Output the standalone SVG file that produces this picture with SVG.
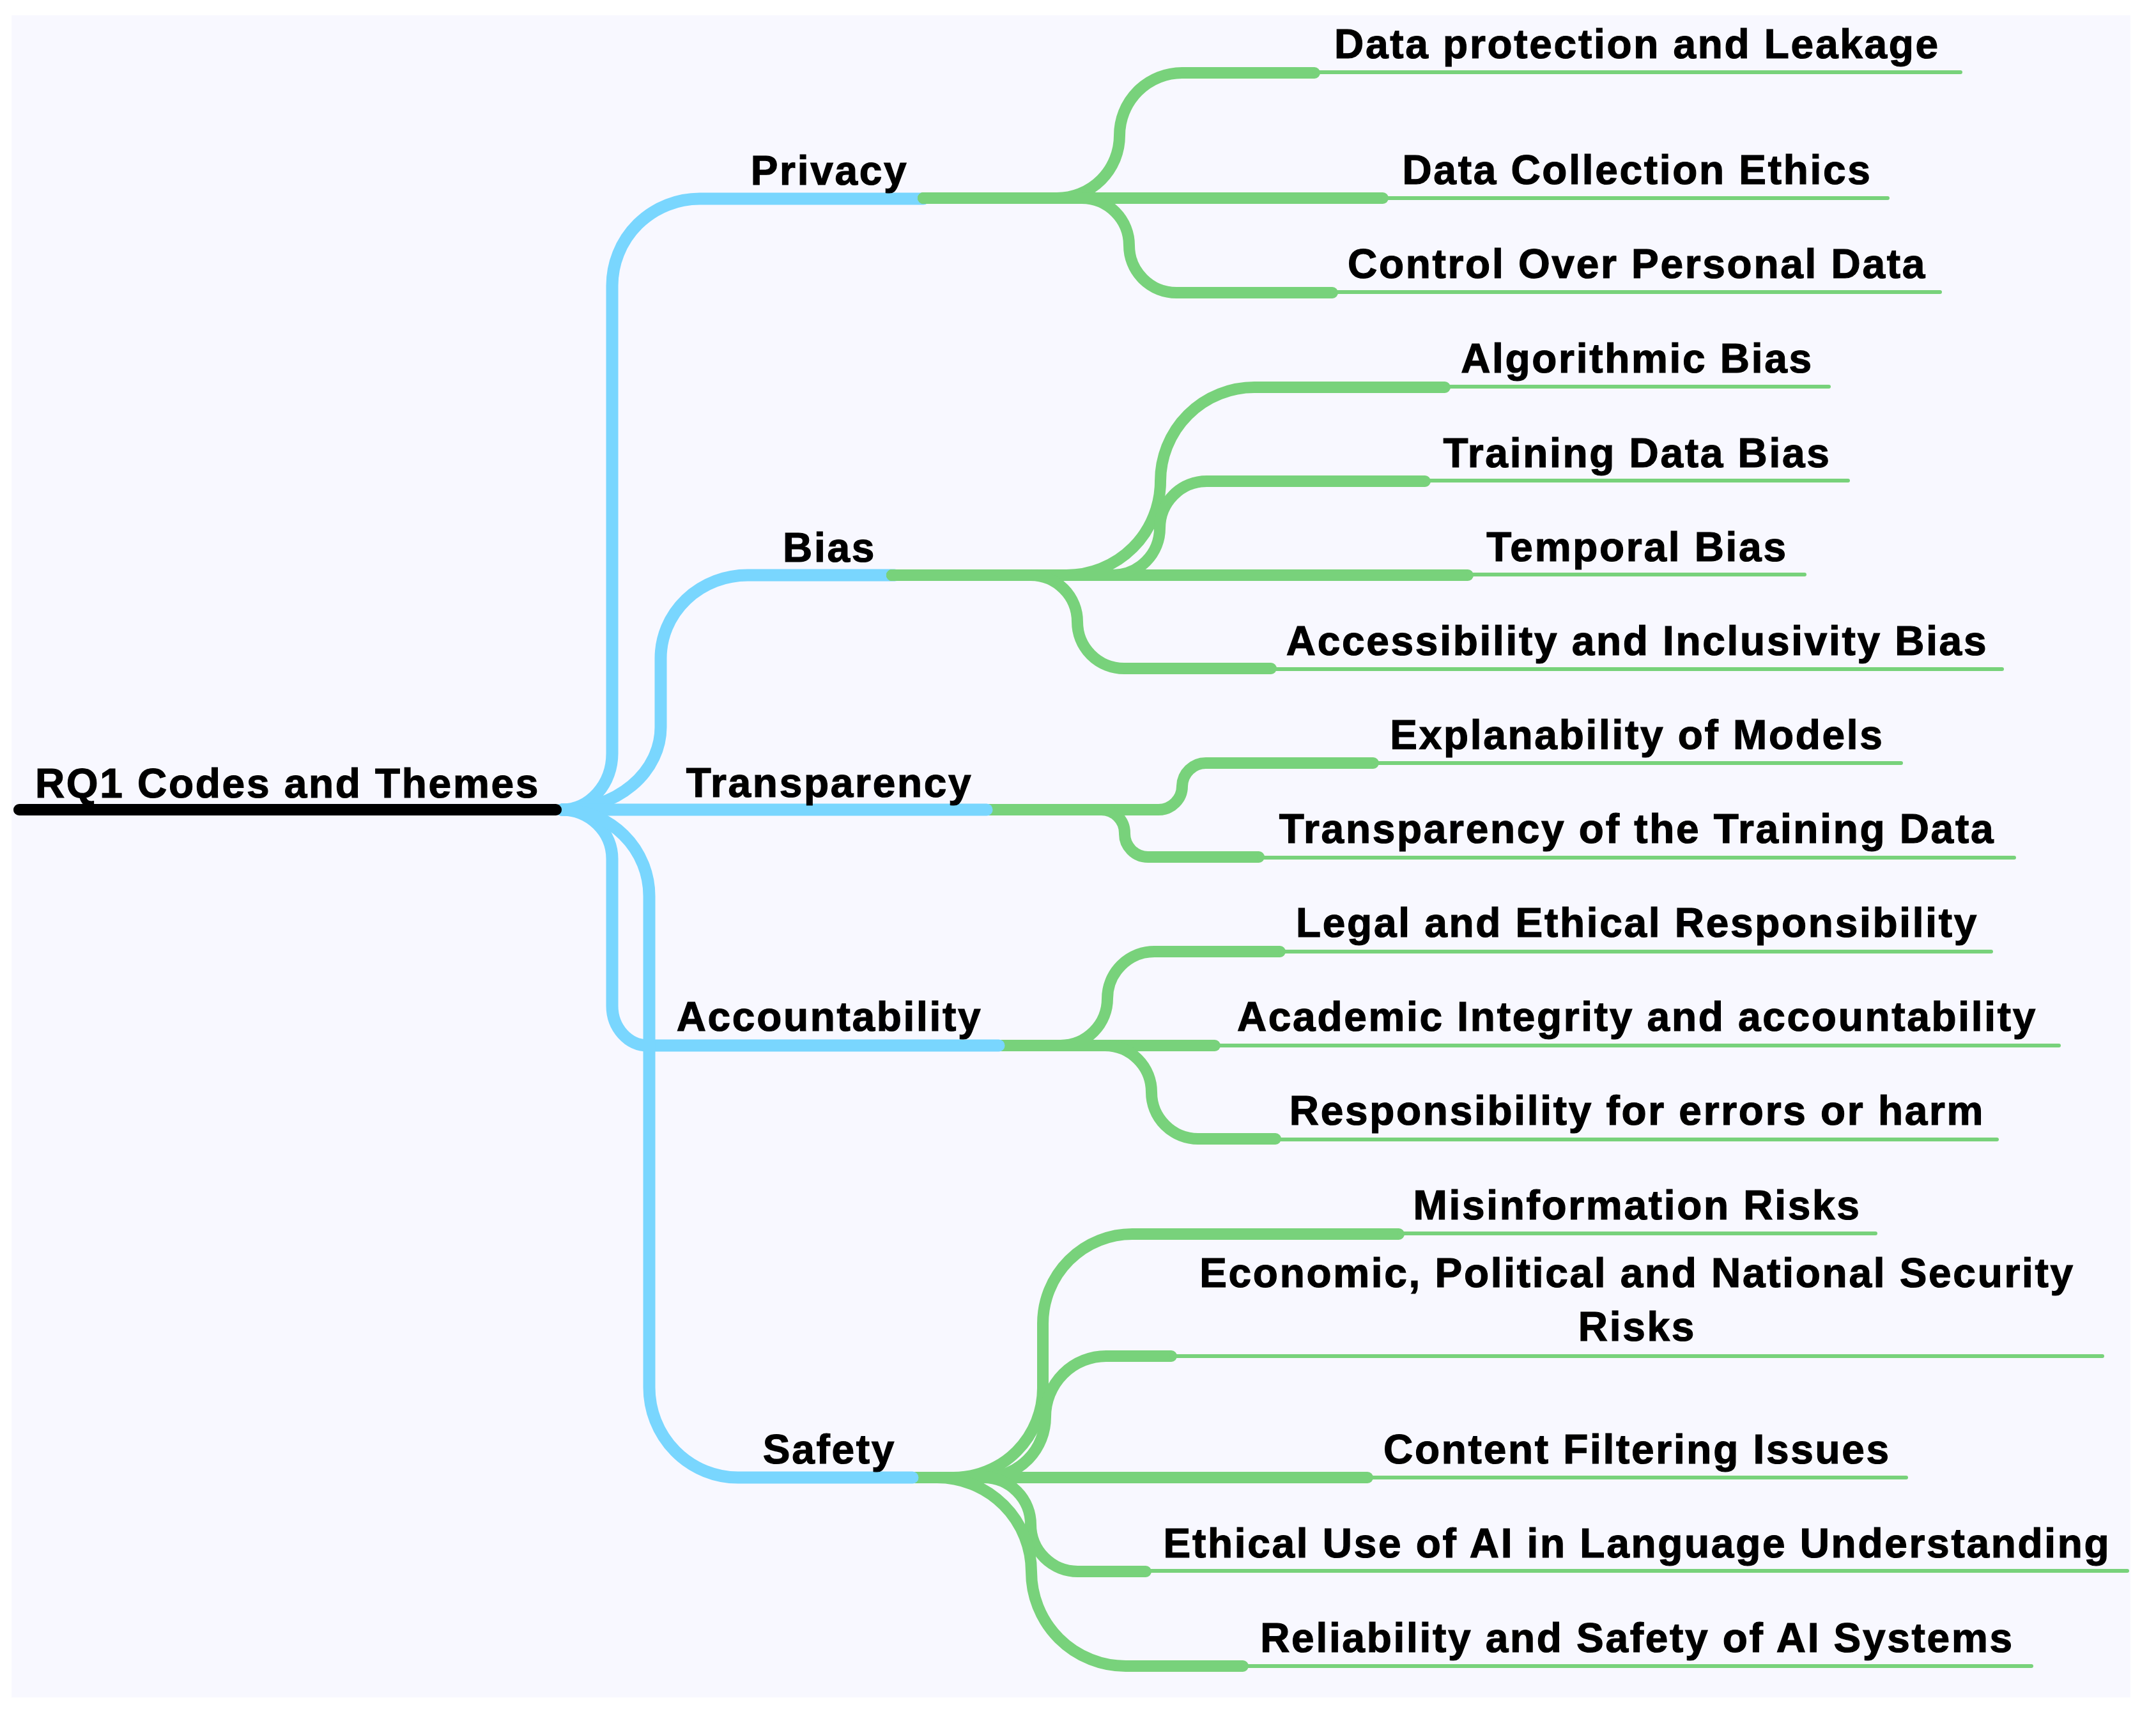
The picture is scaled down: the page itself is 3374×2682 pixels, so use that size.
<svg xmlns="http://www.w3.org/2000/svg" width="3374" height="2682" viewBox="0 0 3374 2682">
<style>
.bg{fill:#F8F8FF}
.lk{fill:none;stroke-linecap:round;stroke-linejoin:round}
.b{stroke:#79D6FE;stroke-width:19}
.g{stroke:#78D27B;stroke-width:18}
.thin{stroke:#78D27B;stroke-width:6;stroke-linecap:round}
.root{stroke:#000;stroke-width:18;stroke-linecap:round}
text{font-family:"Liberation Sans",Arial,Helvetica,sans-serif;font-weight:bold;font-size:64px;letter-spacing:2.7px;fill:#000;stroke:#000;stroke-width:1.2px;text-anchor:middle}
</style>
<rect x="0" y="0" width="3374" height="2682" fill="#FFFFFF"/>
<rect class="bg" x="18" y="24" width="3316" height="2632"/>
<g id="connectors">
  <path class="lk g" d="M 1530 1267 L 1813 1267 A 37 37 0 0 0 1850 1230 A 37 37 0 0 1 1887 1194 L 2149 1194"/>
  <path class="lk g" d="M 1530 1267 L 1723.5 1267 A 36.5 36.5 0 0 1 1760 1303.5 A 36.5 36.5 0 0 0 1796.5 1341 L 1970 1341"/>
  <path class="lk g" d="M 1550 1636 L 1659.5 1636 A 73.5 73.5 0 0 0 1733 1562.5 A 73.5 73.5 0 0 1 1806.5 1489 L 2003 1489"/>
  <path class="lk g" d="M 1550 1636 L 1901 1636"/>
  <path class="lk g" d="M 1550 1636 L 1729 1636 A 73 73 0 0 1 1802 1709 A 73 73 0 0 0 1875 1782 L 1996 1782"/>
  <path class="lk g" d="M 1420 2312 L 1492 2312 A 140 140 0 0 0 1632 2172 L 1632 2071 A 140 140 0 0 1 1772 1931 L 2189 1931"/>
  <path class="lk g" d="M 1420 2312 L 1541 2312 A 95 95 0 0 0 1636 2217 A 95 95 0 0 1 1731 2122 L 1833 2122"/>
  <path class="lk g" d="M 1420 2312 L 2140 2312"/>
  <path class="lk g" d="M 1420 2312 L 1539.5 2312 A 73.5 73.5 0 0 1 1613 2385.5 A 73.5 73.5 0 0 0 1686.5 2459 L 1793 2459"/>
  <path class="lk g" d="M 1420 2312 L 1466.5 2312 A 147.5 147.5 0 0 1 1614 2459.5 A 147.5 147.5 0 0 0 1761.5 2607 L 1945 2607"/>
  <path class="lk b" d="M 879 1267 A 79 88 0 0 0 958 1179 L 958 447 A 137 136 0 0 1 1095 311 L 1445 311"/>
  <path class="lk b" d="M 879 1267 A 155 129 0 0 0 1034 1138 L 1034 1030 A 136 130 0 0 1 1170 900 L 1400 900"/>
  <path class="lk b" d="M 879 1267 L 1544 1267"/>
  <path class="lk b" d="M 879 1267 A 79 77 0 0 1 958 1344 L 958 1574 A 56 62 0 0 0 1014 1636 L 1563 1636"/>
  <path class="lk b" d="M 879 1267 A 137 135 0 0 1 1016 1402 L 1016 2171 A 139 141 0 0 0 1155 2312 L 1428 2312"/>
  <path class="lk g" d="M 1445 310 L 1654 310 A 98 98 0 0 0 1752 212 A 98 98 0 0 1 1850 114 L 2057 114"/>
  <path class="lk g" d="M 1445 310 L 2164 310"/>
  <path class="lk g" d="M 1445 310 L 1693 310 A 74 74 0 0 1 1767 384 A 74 74 0 0 0 1841 458 L 2085 458"/>
  <path class="lk g" d="M 1396 900 L 1669 900 A 147 147 0 0 0 1816 753 A 147 147 0 0 1 1963 606 L 2261 606"/>
  <path class="lk g" d="M 1396 900 L 1741.5 900 A 73.5 73.5 0 0 0 1815 826.5 A 73.5 73.5 0 0 1 1888.5 753 L 2230 753"/>
  <path class="lk g" d="M 1396 900 L 2297 900"/>
  <path class="lk g" d="M 1396 900 L 1613 900 A 73 73 0 0 1 1686 973 A 73 73 0 0 0 1759 1046 L 1989 1046"/>
</g>
<g id="root">
  <line class="root" x1="30" y1="1267" x2="870" y2="1267"/>
  <text x="450" y="1248">RQ1 Codes and Themes</text>
</g>
<g id="privacy"><text x="1298" y="289">Privacy</text></g>
<g id="bias"><text x="1298" y="879">Bias</text></g>
<g id="transparency"><text x="1298" y="1247">Transparency</text></g>
<g id="accountability"><text x="1298" y="1613">Accountability</text></g>
<g id="safety"><text x="1298" y="2290">Safety</text></g>

<g id="data-protection"><line class="thin" x1="2057" y1="113" x2="3068" y2="113"/><text x="2562" y="91">Data protection and Leakage</text></g>
<g id="data-collection"><line class="thin" x1="2164" y1="310" x2="2954" y2="310"/><text x="2562" y="288">Data Collection Ethics</text></g>
<g id="control-data"><line class="thin" x1="2085" y1="457" x2="3036" y2="457"/><text x="2562" y="435">Control Over Personal Data</text></g>

<g id="algorithmic-bias"><line class="thin" x1="2261" y1="605" x2="2862" y2="605"/><text x="2562" y="583">Algorithmic Bias</text></g>
<g id="training-bias"><line class="thin" x1="2230" y1="752" x2="2892" y2="752"/><text x="2562" y="731">Training Data Bias</text></g>
<g id="temporal-bias"><line class="thin" x1="2297" y1="899" x2="2824" y2="899"/><text x="2562" y="878">Temporal Bias</text></g>
<g id="accessibility-bias"><line class="thin" x1="1989" y1="1047" x2="3133" y2="1047"/><text x="2562" y="1025">Accessibility and Inclusivity Bias</text></g>

<g id="explainability"><line class="thin" x1="2149" y1="1194" x2="2975" y2="1194"/><text x="2562" y="1172">Explanability of Models</text></g>
<g id="transparency-data"><line class="thin" x1="1970" y1="1342" x2="3152" y2="1342"/><text x="2562" y="1319">Transparency of the Training Data</text></g>

<g id="legal-ethical"><line class="thin" x1="2003" y1="1489" x2="3116" y2="1489"/><text x="2562" y="1466">Legal and Ethical Responsibility</text></g>
<g id="academic-integrity"><line class="thin" x1="1901" y1="1636" x2="3222" y2="1636"/><text x="2562" y="1613">Academic Integrity and accountability</text></g>
<g id="responsibility-errors"><line class="thin" x1="1996" y1="1783" x2="3125" y2="1783"/><text x="2562" y="1760">Responsibility for errors or harm</text></g>

<g id="misinformation"><line class="thin" x1="2189" y1="1930" x2="2935" y2="1930"/><text x="2562" y="1908">Misinformation Risks</text></g>
<g id="economic-risks"><line class="thin" x1="1833" y1="2122" x2="3290" y2="2122"/><text x="2562" y="2014">Economic, Political and National Security</text><text x="2562" y="2098">Risks</text></g>
<g id="content-filtering"><line class="thin" x1="2140" y1="2312" x2="2983" y2="2312"/><text x="2562" y="2290">Content Filtering Issues</text></g>
<g id="ethical-use"><line class="thin" x1="1793" y1="2458" x2="3329" y2="2458"/><text x="2562" y="2437">Ethical Use of AI in Language Understanding</text></g>
<g id="reliability-safety"><line class="thin" x1="1945" y1="2607" x2="3179" y2="2607"/><text x="2562" y="2585">Reliability and Safety of AI Systems</text></g>
</svg>
